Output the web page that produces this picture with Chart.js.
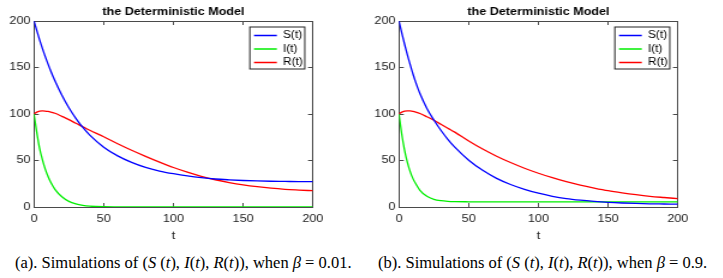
<!DOCTYPE html>
<html>
<head>
<meta charset="utf-8">
<script src="https://cdn.jsdelivr.net/npm/chart.js@4.4.1/dist/chart.umd.min.js"></script>
<style>
    html, body { margin: 0; padding: 0; background: #fff; width: 723px; height: 278px; overflow: hidden; }
    canvas { position: absolute; top: 0; transform-origin: 0 0; transform: scaleX(1.2); }
    #chartA { left: 0; }
    #chartB { left: 365px; }
    .caption {
        position: absolute; top: 253px; line-height: 20px;
        font-family: "Liberation Serif", "Times New Roman", serif;
        font-size: 16.5px; white-space: nowrap; color: #000;
    }
    #capA { left: 15px; }
    #capB { left: 378px; }
</style>
</head>
<body>
<canvas id="chartA" width="289" height="245"></canvas>
<canvas id="chartB" width="289" height="245"></canvas>
<div class="caption" id="capA">(a). Simulations of (<i>S</i> (<i>t</i>), <i>I</i>(<i>t</i>), <i>R</i>(<i>t</i>)), when <i>β</i> = 0.01.</div>
<div class="caption" id="capB">(b). Simulations of (<i>S</i> (<i>t</i>), <i>I</i>(<i>t</i>), <i>R</i>(<i>t</i>)), when <i>β</i> = 0.9.</div>
<script>
const tValues = [0, 2, 4, 6, 8, 10, 12, 15, 20, 25, 30, 35, 40, 50, 60, 70, 80, 90, 100, 110, 120, 130, 140, 150, 160, 170, 180, 190, 200];
const seriesNames = ["S(t)", "I(t)", "R(t)"];
const seriesColors = ["#0000ff", "#00ee00", "#ff0000"];

// (a) beta = 0.01
const sLow = [200, 189.6, 179.8, 170.6, 162, 153.9, 146.3, 135.7, 120.1, 106.7, 95.3, 85.5, 77.3, 64.3, 55, 48, 42.6, 38.7, 35.8, 33.4, 31.5, 30.1, 29.2, 28.5, 28, 27.7, 27.5, 27.3, 27.2];
const iLow = [100, 80, 63, 51, 41, 33, 26.5, 19, 11, 6, 3.3, 1.8, 1, 0.3, 0.1, 0, 0, 0, 0, 0, 0, 0, 0, 0, 0, 0, 0, 0, 0];
const rLow = [100, 102, 103, 103.3, 103.2, 102.7, 102, 100.8, 97.5, 94, 90, 86.3, 82.5, 75.5, 68, 61, 54.5, 48.3, 42.5, 37.5, 33, 29.3, 26.3, 23.8, 21.8, 20.2, 19, 18.2, 17.5];

// (b) beta = 0.9
const sHigh = [200, 187, 175, 163.5, 153, 143, 134, 122, 106, 93.5, 82.5, 72.8, 64.3, 50.3, 39.4, 30.8, 24.2, 19, 14.8, 11.5, 9, 7.3, 6, 5, 4.3, 3.8, 3.4, 3.2, 3.0];
const iHigh = [100, 78, 61, 48, 38, 30.5, 25, 18, 11.5, 8.3, 6.8, 6.1, 5.8, 5.6, 5.5, 5.5, 5.5, 5.5, 5.5, 5.5, 5.5, 5.5, 5.5, 5.5, 5.5, 5.5, 5.5, 5.5, 5.5];
const rHigh = [100, 102, 103, 103.4, 103.3, 102.8, 102, 100.5, 97, 93.2, 89, 84.7, 80.5, 71, 62.3, 54.6, 47.8, 41.7, 36.3, 31.5, 27.3, 23.6, 20.4, 17.5, 15.2, 13.2, 11.5, 10.2, 9];

const axisColor = "#4a4a4a";
const textColor = "#222";
const sideWidth = 28.33;

Chart.defaults.font.family = "'Liberation Sans', Arial, sans-serif";
Chart.defaults.color = textColor;

// put the legend in the top right corner of the plot, with a framed box like matlab
const legendBoxPlugin = {
    id: "legendBox",
    afterLayout(chart) {
        const lg = chart.legend;
        const area = chart.chartArea;
        lg.left = area.right - 6.7 - 45.8;
        lg.right = lg.left + 45.8;
        lg.top = area.top + 6;
        lg.bottom = lg.top + 60;
    },
    beforeDraw(chart) {
        const lg = chart.legend;
        const ctx = chart.ctx;
        ctx.save();
        ctx.fillStyle = "#fff";
        ctx.fillRect(lg.left, lg.top, 45.8, 42);
        ctx.strokeStyle = "#222";
        ctx.lineWidth = 1;
        ctx.strokeRect(lg.left, lg.top, 45.8, 42);
        ctx.restore();
    },
};

function toPoints(values) {
    return tValues.map((t, i) => ({ x: t, y: values[i] }));
}

function sideAxis(position, showLabels, fitFn) {
    return {
        type: "linear",
        position: position,
        min: 0,
        max: 200,
        ticks: {
            display: showLabels,
            stepSize: 50,
            maxRotation: 0,
            padding: position === "bottom" ? 10 : 7,
            color: textColor,
            font: { size: 10.5 },
        },
        grid: { drawOnChartArea: false, drawTicks: true, tickLength: -4, color: axisColor },
        border: { color: axisColor, width: 1 },
        afterFit: fitFn,
    };
}

function makeChart(canvasId, series) {
    const ctx = document.getElementById(canvasId).getContext("2d");
    const xAxis = sideAxis("bottom", true, (s) => { s.height = 38; });
    xAxis.title = { display: true, text: "t", color: textColor, font: { size: 11 }, padding: { top: 0, bottom: 2.4 } };

    return new Chart(ctx, {
        type: "line",
        data: {
            datasets: series.map((values, i) => ({
                label: seriesNames[i],
                data: toPoints(values),
                borderColor: seriesColors[i],
                backgroundColor: seriesColors[i],
                borderWidth: 1.3,
                pointRadius: 0,
                cubicInterpolationMode: "monotone",
                fill: false,
            })),
        },
        options: {
            responsive: false,
            animation: false,
            devicePixelRatio: 1,
            layout: { padding: 0 },
            plugins: {
                title: {
                    display: true,
                    text: "the Deterministic Model",
                    color: "#000",
                    font: { size: 10.5, weight: "bold" },
                    padding: { top: 5.5, bottom: 2.9 },
                },
                legend: {
                    position: "chartArea",
                    align: "start",
                    labels: {
                        usePointStyle: true,
                        pointStyle: "line",
                        pointStyleWidth: 19,
                        boxHeight: 10,
                        padding: 3.5,
                        color: "#000",
                        font: { size: 10 },
                    },
                },
                tooltip: { enabled: false },
            },
            scales: {
                x: xAxis,
                x2: sideAxis("top", false, (s) => { s.height = 0; }),
                y: sideAxis("left", true, (s) => { s.width = sideWidth; }),
                y2: sideAxis("right", false, (s) => { s.width = sideWidth; }),
            },
        },
        plugins: [legendBoxPlugin],
    });
}

makeChart("chartA", [sLow, iLow, rLow]);
makeChart("chartB", [sHigh, iHigh, rHigh]);
</script>
</body>
</html>
